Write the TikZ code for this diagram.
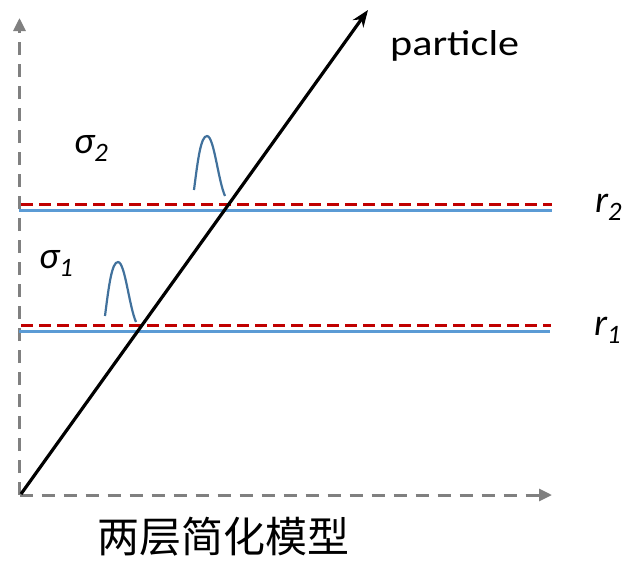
\documentclass[tikz,border=0pt]{standalone}
\usepackage{fontspec}
\setmainfont{Carlito}
\newfontfamily\cjk{Noto Sans CJK SC}
\usetikzlibrary{arrows.meta}
\definecolor{axisgray}{HTML}{808080}
\definecolor{darkred}{HTML}{C00000}
\definecolor{layerblue}{HTML}{5B9BD5}
\definecolor{curveblue}{HTML}{41719C}
\tikzset{
  axisline/.style={draw=axisgray, line width=3pt, dash pattern=on 13pt off 9pt, -{Triangle[length=13pt,width=12pt]}},
  redline/.style={draw=darkred, line width=3pt, dash pattern=on 12pt off 6pt},
  blueline/.style={draw=layerblue, line width=3pt},
  particleline/.style={draw=black, line width=3.2pt, -{Stealth[length=17pt,width=13pt]}},
  bell/.style={draw=curveblue, line width=2.2pt},
  lbl/.style={inner sep=0pt, font=\fontsize{36}{40}\selectfont},
  ilbl/.style={inner sep=0pt, font=\fontsize{38}{42}\selectfont\itshape},
}
\begin{document}
\begin{tikzpicture}[x=1pt,y=-1pt]
\useasboundingbox (0,0) rectangle (629,560);
% axes
\coordinate (O) at (19.5,495);
\coordinate (Ytop) at (19.5,18);
\coordinate (Xend) at (552,495);
\draw[axisline] (O) -- (Ytop);
\draw[axisline] (O) -- (Xend);
% layers
\coordinate (R2a) at (21,204.3);
\coordinate (R2b) at (552,204.3);
\coordinate (B2a) at (19,210.7);
\coordinate (B2b) at (552,210.7);
\coordinate (R1a) at (21,325.7);
\coordinate (R1b) at (551,325.7);
\coordinate (B1a) at (19,331.4);
\coordinate (B1b) at (550,331.4);
\draw[blueline] (B2a) -- (B2b);
\draw[redline] (R2a) -- (R2b);
\draw[blueline] (B1a) -- (B1b);
\draw[redline] (R1a) -- (R1b);
% particle
\coordinate (P0) at (21,494);
\coordinate (P1) at (368,10);
\draw[particleline] (P0) -- (P1);
\node[lbl, anchor=base west, xscale=1.17] (particle) at (390,55) {particle};
% gaussian bumps
\draw[bell] (194,190) .. controls (198,158) and (201,136) .. (207,136) .. controls (214,136) and (218,180) .. (225,196);
\draw[bell] (105,316) .. controls (109,284) and (112,262) .. (118,262) .. controls (125,262) and (129,306) .. (136,322);
% labels
\node[ilbl, anchor=base west] (s2) at (74,153) {σ\textsubscript{2}};
\node[ilbl, anchor=base west] (s1) at (39,268) {σ\textsubscript{1}};
\node[ilbl, anchor=base west] (r2) at (595,212) {r\textsubscript{2}};
\node[ilbl, anchor=base west] (r1) at (594,335) {r\textsubscript{1}};
\node[inner sep=0pt, anchor=base west, font=\cjk\fontsize{42}{46}\selectfont] (title) at (97,552) {两层简化模型};
\end{tikzpicture}
\end{document}
